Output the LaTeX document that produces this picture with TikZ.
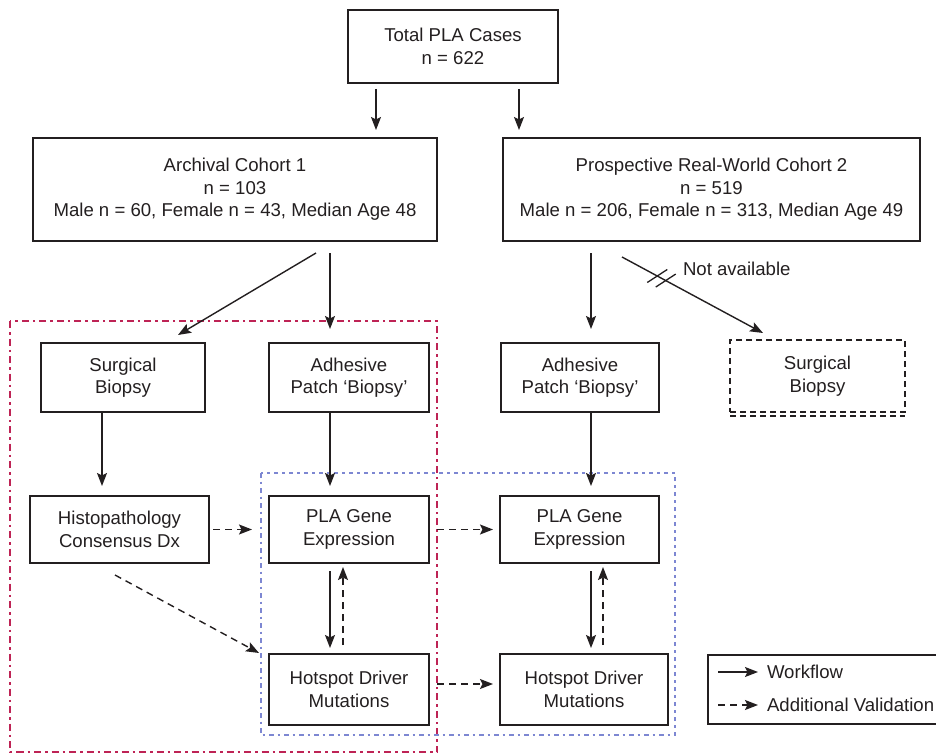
\documentclass[tikz,border=0pt]{standalone}
\usepackage{fontspec}
\setmainfont{Liberation Sans}
\usetikzlibrary{arrows.meta}

\definecolor{inkgrey}{RGB}{35,31,32}
\definecolor{archred}{RGB}{190,35,85}
\definecolor{valblue}{RGB}{125,135,210}

\begin{document}
\begin{tikzpicture}[
    x = 1pt, y = -1pt,
    every node/.style = {
      text = inkgrey, inner sep = 0pt, outer sep = 0pt,
      font = \fontsize{18.6}{22.5}\selectfont
    },
    box/.style = {
      rectangle, draw = inkgrey, line width = 1.5pt, align = center
    },
    flow/.style = {
      draw = inkgrey, line width = 1.4pt,
      -{Stealth[length = 13pt, width = 10pt, inset = 2.5pt]}
    },
    check/.style = {flow, dash pattern = on 7pt off 5pt},
    cohortframe/.style = {
      draw = archred, line width = 2.4pt,
      dash pattern = on 7pt off 4pt on 2.5pt off 4pt
    },
    geneframe/.style = {
      draw = valblue, line width = 2.4pt,
      dash pattern = on 4.5pt off 4pt on 2.5pt off 4pt
    }
  ]
  \useasboundingbox (0, 0) rectangle (936, 754);

  \draw [cohortframe] (10, 321) rectangle (437, 752);
  \draw [geneframe] (261, 473) rectangle (675, 735);

  \node (total) [box, minimum width = 210pt, minimum height = 73pt]
    at (453, 46.5) {Total PLA Cases\\n = 622};
  \node (archival) [box, minimum width = 404pt, minimum height = 103pt]
    at (235, 189.5)
    {Archival Cohort 1\\n = 103\\Male n = 60, Female n = 43, Median Age 48};
  \node (prospective) [box, minimum width = 417pt, minimum height = 103pt]
    at (711.5, 189.5)
    {Prospective Real-World Cohort 2\\n = 519\\Male n = 206, Female n = 313, Median Age 49};

  \node (surgL) [box, minimum width = 164pt, minimum height = 69pt]
    at (123, 377.5) {Surgical\\Biopsy};
  \node (adhL) [box, minimum width = 160pt, minimum height = 69pt]
    at (349, 377.5) {Adhesive\\Patch `Biopsy'};
  \node (adhR) [box, minimum width = 158pt, minimum height = 69pt]
    at (580, 377.5) {Adhesive\\Patch `Biopsy'};
  \node (surgR) [box, dash pattern = on 6pt off 4pt, minimum width = 175pt,
    minimum height = 72pt] at (817.5, 376) {Surgical\\Biopsy};
  \draw [draw = inkgrey, line width = 1.5pt, dash pattern = on 6pt off 4pt]
    ([yshift = -4pt] surgR.south west) -- ([yshift = -4pt] surgR.south east);

  \node (histo) [box, minimum width = 179pt, minimum height = 67pt]
    at (119.5, 529.5) {Histopathology\\Consensus Dx};
  \node (plaL) [box, minimum width = 160pt, minimum height = 67pt]
    at (349, 529.5) {PLA Gene\\Expression};
  \node (plaR) [box, minimum width = 159pt, minimum height = 67pt]
    at (579.5, 529.5) {PLA Gene\\Expression};
  \node (hotL) [box, minimum width = 160pt, minimum height = 71pt]
    at (349, 689.5) {Hotspot Driver\\Mutations};
  \node (hotR) [box, minimum width = 168pt, minimum height = 71pt]
    at (584, 689.5) {Hotspot Driver\\Mutations};

  \draw [flow, shorten < = 6pt, shorten > = 8pt] ([xshift = -77pt] total.south)
    -- ([xshift = -77pt] total.south |- archival.north);
  \draw [flow, shorten < = 6pt, shorten > = 8pt] ([xshift = 66pt] total.south)
    -- ([xshift = 66pt] total.south |- prospective.north);

  \draw [flow] ([shift = {(81, 12)}] archival.south)
    -- ([shift = {(55, -8)}] surgL.north);
  \draw [flow, shorten < = 12pt, shorten > = 14pt] ([xshift = 95pt] archival.south)
    -- ([xshift = 95pt] archival.south |- adhL.north);
  \draw [flow, shorten < = 12pt, shorten > = 14pt]
    ([xshift = -120.5pt] prospective.south)
    -- ([xshift = -120.5pt] prospective.south |- adhR.north);
  \draw [flow] ([shift = {(-89.5, 16)}] prospective.south)
    -- coordinate [pos = 0.25] (cutA) coordinate [pos = 0.31] (cutB)
    ([shift = {(-54.5, -7)}] surgR.north);
  \draw [draw = inkgrey, line width = 1.3pt]
    ([shift = {(-10, 6.5)}] cutA) -- ([shift = {(10, -6.5)}] cutA);
  \draw [draw = inkgrey, line width = 1.3pt]
    ([shift = {(-10, 6.5)}] cutB) -- ([shift = {(10, -6.5)}] cutB);
  \node (na) [anchor = west] at (683, 269) {Not available};

  \draw [flow, shorten < = 1pt, shorten > = 10pt] ([xshift = -21pt] surgL.south)
    -- ([xshift = -21pt] surgL.south |- histo.north);
  \draw [flow, shorten < = 1pt, shorten > = 10pt] ([xshift = -19pt] adhL.south)
    -- ([xshift = -19pt] adhL.south |- plaL.north);
  \draw [flow, shorten < = 1pt, shorten > = 10pt] ([xshift = 11pt] adhR.south)
    -- ([xshift = 11pt] adhR.south |- plaR.north);

  \draw [check, shorten < = 4pt, shorten > = 17pt] (histo.east) -- (plaL.west);
  \draw [check, shorten < = 8pt, shorten > = 7pt] (plaL.east) -- (plaR.west);
  \draw [check, shorten < = 8pt, shorten > = 7pt] ([yshift = 5.5pt] hotL.east)
    -- ([yshift = 5.5pt] hotL.east -| hotR.west);
  \draw [check] ([shift = {(-4.5, 12)}] histo.south)
    -- ([shift = {(-10, -1)}] hotL.north west);

  \draw [flow, shorten < = 8pt, shorten > = 6pt] ([xshift = -19pt] plaL.south)
    -- ([xshift = -19pt] plaL.south |- hotL.north);
  \draw [check, shorten < = 9pt, shorten > = 4pt]
    ([xshift = -6pt] plaL.south |- hotL.north) -- ([xshift = -6pt] plaL.south);
  \draw [flow, shorten < = 8pt, shorten > = 6pt] ([xshift = 11.5pt] plaR.south)
    -- ([xshift = 11.5pt] plaR.south |- hotR.north);
  \draw [check, shorten < = 9pt, shorten > = 4pt]
    ([xshift = 23.5pt] plaR.south |- hotR.north) -- ([xshift = 23.5pt] plaR.south);

  \node (legend) [box, anchor = north west, minimum width = 240pt,
    minimum height = 69pt] at (708, 655) {};
  \node (wf) [anchor = west] at (767, 672) {Workflow};
  \node (av) [anchor = west] at (767, 705) {Additional Validation};
  \draw [flow] ([xshift = -49pt] wf.west) -- ([xshift = -9pt] wf.west);
  \draw [check] ([xshift = -49pt] av.west) -- ([xshift = -9pt] av.west);
\end{tikzpicture}
\end{document}
